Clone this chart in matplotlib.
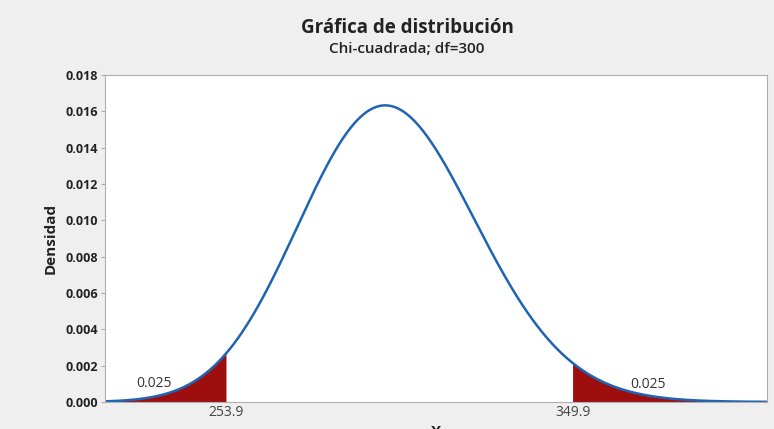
import math
import numpy as np
import matplotlib
matplotlib.use("Agg")
import matplotlib.pyplot as plt

plt.rcParams['font.family'] = ['Open Sans', 'DejaVu Sans']

title = "Gráfica de distribución"
subtitle = "Chi-cuadrada; df=300"
df = 300
crit_low = 253.9
crit_high = 349.9
tail_areas = ["0.025", "0.025"]
x_range = [220.4, 403.7]
y_ticks = [0.000, 0.002, 0.004, 0.006, 0.008, 0.010, 0.012, 0.014, 0.016, 0.018]

def chi2_pdf(x, k):
    return np.exp((k / 2 - 1) * np.log(x) - x / 2 - (k / 2) * math.log(2) - math.lgamma(k / 2))

fig = plt.figure(figsize=(7.74, 4.29), dpi=100)
fig.patch.set_facecolor('#efefef')
ax = fig.add_axes([0.1357, 0.063, 0.855, 0.762])
ax.set_facecolor('white')

x = np.linspace(x_range[0], x_range[1], 800)
y = chi2_pdf(x, df)

red = '#9e0e0e'
xl = x[x <= crit_low]
ax.fill_between(np.append(xl, crit_low), 0, chi2_pdf(np.append(xl, crit_low), df), color=red, lw=0)
xh = x[x >= crit_high]
xh = np.insert(xh, 0, crit_high)
ax.fill_between(xh, 0, chi2_pdf(xh, df), color=red, lw=0)
ax.plot(x, y, color='#1f64b4', lw=1.8)

ax.set_xlim(x_range)
ax.set_ylim(0, 0.018)
ax.set_yticks(y_ticks)
ax.set_yticklabels([f"{v:.3f}" for v in y_ticks], fontsize=9, fontweight='bold', color='#222222')
ax.set_xticks([crit_low, crit_high])
ax.set_xticklabels([f"{crit_low}", f"{crit_high}"], fontsize=10, color='#444444')
ax.tick_params(axis='x', length=0, pad=2)
ax.tick_params(axis='y', length=3, color='#aaaaaa', pad=2)
for s in ax.spines.values():
    s.set_color('#b0b0b0')
    s.set_linewidth(0.8)

ax.set_ylabel("Densidad", fontsize=11, fontweight='bold', color='#222222', labelpad=6)
ax.set_xlabel("X", fontsize=11, fontweight='bold', color='#222222', labelpad=4)

ax.text(crit_low - 20, 0.00103, tail_areas[0], ha='center', va='center', fontsize=10, color='#333333')
ax.text(crit_high + 21, 0.00097, tail_areas[1], ha='center', va='center', fontsize=10, color='#333333')

fig.text(0.526, 0.935, title, ha='center', va='center', fontsize=13.5, fontweight='bold', color='#222222')
fig.text(0.526, 0.885, subtitle, ha='center', va='center', fontsize=11, color='#222222', fontweight='semibold')

fig.savefig("out.png", dpi=100, facecolor=fig.get_facecolor())
